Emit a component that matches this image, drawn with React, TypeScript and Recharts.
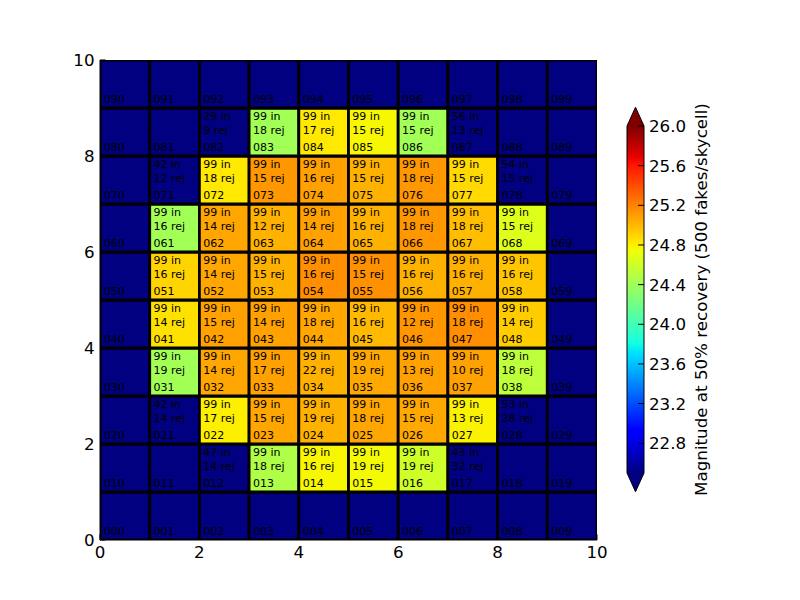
import React from 'react';
import { ComposedChart, XAxis, YAxis, ReferenceArea, Scatter, Bar } from 'recharts';

// ---- data ----
const xTicks = [0, 2, 4, 6, 8, 10];
const yTicks = [0, 2, 4, 6, 8, 10];
const cbTicks = [22.8, 23.2, 23.6, 24.0, 24.4, 24.8, 25.2, 25.6, 26.0];
const cbMin = 22.5;
const cbMax = 26.0;
const cbLabel = 'Magnitude at 50% recovery (500 fakes/skycell)';

// row index = y (0 bottom .. 9 top), column index = x; 0 = no 50% magnitude (below colour range)
const magnitude: number[][] = [
  [0, 0, 0, 0, 0, 0, 0, 0, 0, 0],
  [0, 0, 0, 24.47, 24.77, 24.76, 24.6, 0, 0, 0],
  [0, 0, 24.8, 25.07, 25.03, 25.07, 25.06, 24.79, 0, 0],
  [0, 24.41, 25.07, 25.09, 25.03, 25.06, 25.09, 25.09, 24.53, 0],
  [0, 24.85, 25.09, 25.09, 25.07, 25.0, 25.13, 25.16, 24.93, 0],
  [0, 24.9, 25.07, 25.03, 25.16, 25.15, 25.03, 25.03, 24.95, 0],
  [0, 24.41, 25.07, 25.02, 25.09, 25.03, 25.12, 24.98, 24.67, 0],
  [0, 0, 24.82, 25.12, 25.09, 25.03, 25.12, 24.88, 0, 0],
  [0, 0, 0, 24.41, 24.82, 24.77, 24.41, 0, 0, 0],
  [0, 0, 0, 0, 0, 0, 0, 0, 0, 0],
];

const inCounts: (number | null)[][] = [
  [null, null, null, null, null, null, null, null, null, null],
  [null, null, 47, 99, 99, 99, 99, 43, null, null],
  [null, 42, 99, 99, 99, 99, 99, 99, 53, null],
  [null, 99, 99, 99, 99, 99, 99, 99, 99, null],
  [null, 99, 99, 99, 99, 99, 99, 99, 99, null],
  [null, 99, 99, 99, 99, 99, 99, 99, 99, null],
  [null, 99, 99, 99, 99, 99, 99, 99, 99, null],
  [null, 42, 99, 99, 99, 99, 99, 99, 54, null],
  [null, null, 29, 99, 99, 99, 99, 56, null, null],
  [null, null, null, null, null, null, null, null, null, null],
];

const rejCounts: (number | null)[][] = [
  [null, null, null, null, null, null, null, null, null, null],
  [null, null, 14, 18, 16, 19, 19, 32, null, null],
  [null, 14, 17, 15, 19, 18, 15, 13, 28, null],
  [null, 19, 14, 17, 22, 19, 13, 10, 18, null],
  [null, 14, 15, 14, 18, 16, 12, 18, 14, null],
  [null, 16, 14, 15, 16, 15, 16, 16, 16, null],
  [null, 16, 14, 12, 14, 16, 18, 18, 15, null],
  [null, 12, 18, 15, 16, 15, 18, 15, 15, null],
  [null, null, 9, 18, 17, 15, 15, 13, null, null],
  [null, null, null, null, null, null, null, null, null, null],
];

// ---- jet colormap (matplotlib segment data) ----
const jetR = [[0, 0], [0.35, 0], [0.66, 1], [0.89, 1], [1, 0.5]];
const jetG = [[0, 0], [0.125, 0], [0.375, 1], [0.64, 1], [0.91, 0], [1, 0]];
const jetB = [[0, 0.5], [0.11, 1], [0.34, 1], [0.65, 0], [1, 0]];
const seg = (s: number[][], t: number) => {
  for (let i = 1; i < s.length; i++) {
    if (t <= s[i][0]) {
      const [t0, v0] = s[i - 1];
      const [t1, v1] = s[i];
      return v0 + ((v1 - v0) * (t - t0)) / (t1 - t0);
    }
  }
  return s[s.length - 1][1];
};
const jetT = (t: number) => {
  const c = Math.max(0, Math.min(1, t));
  const h = (v: number) => Math.round(v * 255).toString(16).padStart(2, '0');
  return `#${h(seg(jetR, c))}${h(seg(jetG, c))}${h(seg(jetB, c))}`;
};
const colorFor = (v: number) => jetT((v - cbMin) / (cbMax - cbMin));
const gradStops = [0, 0.11, 0.125, 0.34, 0.35, 0.375, 0.64, 0.65, 0.66, 0.89, 0.91, 1];

const cells: any[] = [];
for (let r = 0; r < 10; r++) {
  for (let c = 0; c < 10; c++) {
    cells.push({
      x: c + 0.5,
      y: r + 0.5,
      col: c,
      row: r,
      id: `0${r}${c}`,
      mag: magnitude[r][c],
      nIn: inCounts[r][c],
      nRej: rejCounts[r][c],
    });
  }
}

const cbData = [{ name: 'cb', range: [cbMin, cbMax] }];

const CellText = (props: any) => {
  const { cx, cy, payload } = props;
  if (cx == null || cy == null) return null;
  const tx = cx - 21;
  return (
    <g fontSize={11} fill="#000" fontFamily="DejaVu Sans">
      {payload.nIn != null && <text x={tx} y={cy - 11.7}>{`${payload.nIn} in`}</text>}
      {payload.nRej != null && <text x={tx} y={cy + 2.3}>{`${payload.nRej} rej`}</text>}
      <text x={tx} y={cy + 19.3}>{payload.id}</text>
    </g>
  );
};

const ColorbarShape = (props: any) => {
  const { x, y, width, height } = props;
  const th = height * 0.054;
  return (
    <g>
      <polygon points={`${x},${y} ${x + width / 2},${y - th} ${x + width},${y}`} fill={jetT(1)} />
      <rect x={x} y={y} width={width} height={height} fill="url(#jetGrad)" />
      <polygon
        points={`${x},${y + height} ${x + width / 2},${y + height + th} ${x + width},${y + height}`}
        fill={jetT(0)}
      />
      <path
        d={`M${x},${y} L${x + width / 2},${y - th} L${x + width},${y} L${x + width},${y + height} L${x + width / 2},${y + height + th} L${x},${y + height} Z`}
        fill="none"
        stroke="#000"
        strokeWidth={1}
      />
    </g>
  );
};

const CbLabel = (props: any) => {
  const vb = props.viewBox || {};
  const x = vb.x + 62.5;
  const y = vb.y + vb.height / 2;
  return (
    <text
      x={x}
      y={y}
      transform={`rotate(-90 ${x} ${y})`}
      textAnchor="middle"
      fontSize={16.7}
      fill="#000"
      fontFamily="DejaVu Sans"
    >
      {cbLabel}
    </text>
  );
};

const tickStyle = { fill: '#000', fontSize: 16.7, fontFamily: 'DejaVu Sans' };
const empty = () => '';

export default function App() {
  return (
    <div
      style={{
        position: 'absolute',
        left: 0,
        top: 0,
        width: 800,
        height: 600,
        background: '#fff',
        fontFamily: 'DejaVu Sans',
      }}
    >
      <div style={{ position: 'absolute', left: 0, top: 0 }}>
        <ComposedChart width={800} height={600} margin={{ top: 60, right: 203, bottom: 0, left: 0 }}>
          {cells.map((c) => (
            <ReferenceArea
              key={`cell-${c.id}`}
              x1={c.col}
              x2={c.col + 1}
              y1={c.row}
              y2={c.row + 1}
              fill={colorFor(c.mag)}
              fillOpacity={1}
              stroke="#000"
              strokeWidth={2.8}
              ifOverflow="hidden"
            />
          ))}
          <XAxis
            type="number"
            dataKey="x"
            domain={[0, 10]}
            ticks={xTicks}
            interval={0}
            height={60}
            tickSize={-5.6}
            tickMargin={12}
            axisLine={{ stroke: '#000' }}
            tickLine={{ stroke: '#000' }}
            tick={tickStyle}
          />
          <YAxis
            type="number"
            dataKey="y"
            domain={[0, 10]}
            ticks={yTicks}
            interval={0}
            width={100}
            tickSize={-5.6}
            tickMargin={11}
            axisLine={{ stroke: '#000' }}
            tickLine={{ stroke: '#000' }}
            tick={tickStyle}
          />
          <XAxis
            xAxisId="top"
            orientation="top"
            type="number"
            domain={[0, 10]}
            ticks={xTicks}
            interval={0}
            height={0}
            tickSize={-5.6}
            tickFormatter={empty}
            axisLine={{ stroke: '#000' }}
            tickLine={{ stroke: '#000' }}
          />
          <YAxis
            yAxisId="right"
            orientation="right"
            type="number"
            domain={[0, 10]}
            ticks={yTicks}
            interval={0}
            width={0}
            tickSize={-5.6}
            tickFormatter={empty}
            axisLine={{ stroke: '#000' }}
            tickLine={{ stroke: '#000' }}
          />
          <Scatter data={cells} dataKey="y" shape={CellText} isAnimationActive={false} />
        </ComposedChart>
      </div>
      <div style={{ position: 'absolute', left: 0, top: 0 }}>
        <ComposedChart
          width={800}
          height={600}
          data={cbData}
          margin={{ top: 126, right: 0, bottom: 127, left: 627 }}
          barCategoryGap={0}
          barGap={0}
        >
          <defs>
            <linearGradient id="jetGrad" x1="0" y1="1" x2="0" y2="0">
              {gradStops.map((t) => (
                <stop key={t} offset={t} stopColor={jetT(t)} />
              ))}
            </linearGradient>
          </defs>
          <XAxis type="category" dataKey="name" hide />
          <YAxis
            orientation="right"
            type="number"
            domain={[cbMin, cbMax]}
            ticks={cbTicks}
            interval={0}
            width={156}
            tickSize={-6}
            tickMargin={11}
            tickFormatter={(v: number) => v.toFixed(1)}
            axisLine={false}
            tickLine={{ stroke: '#000' }}
            tick={{ ...tickStyle, textAnchor: 'start' }}
            label={<CbLabel />}
          />
          <Bar dataKey="range" shape={ColorbarShape} isAnimationActive={false} />
        </ComposedChart>
      </div>
    </div>
  );
}
